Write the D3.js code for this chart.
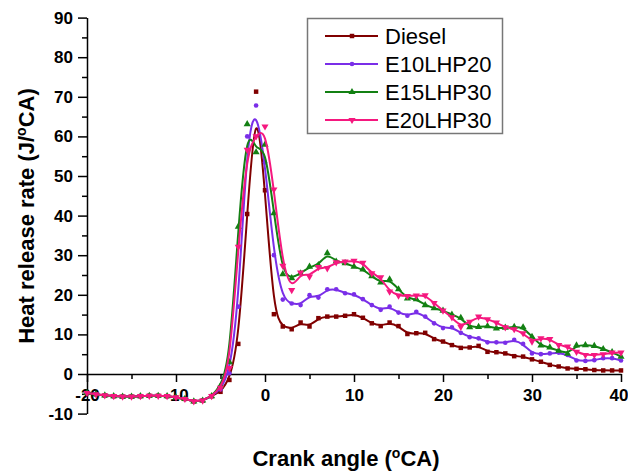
<!DOCTYPE html>
<html>
<head>
<meta charset="utf-8">
<script src="https://cdn.jsdelivr.net/npm/d3@7"></script>
<style>
  body { margin: 0; background: #fff; }
  svg { display: block; font-family: Arial, "Liberation Sans", sans-serif; }
</style>
</head>
<body>
<div id="chart"></div>
<script>
// Crank angle, one reading per degree
var angles = d3.range(-20, 41, 1);

// Motored part before ignition is the same for all fuels (-20 .. -6)
var baseline = [-4.8, -5.1, -5.4, -5.6, -5.7, -5.7, -5.6, -5.5, -5.5, -5.6, -5.9, -6.3, -6.9, -6.7, -5.6];

// -5 .. 40 for every fuel
var diesel = baseline.concat([-4.5, -1.5, 7.6, 40.4, 71.3, 46.4, 15.1, 12.0, 11.3, 13.0, 12.0, 14.1, 14.5, 14.5, 14.7, 15.1,
  14.2, 12.8, 12.1, 13.0, 12.1, 10.1, 10.3, 10.4, 8.8, 8.2, 7.3, 6.6, 6.7, 7.1, 5.6,
  5.5, 5.2, 4.5, 4.4, 3.7, 3.1, 2.3, 1.9, 1.4, 1.3, 1.2, 1.0, 0.9, 0.9, 0.9]);
var e10 = baseline.concat([-3.9, 0.2, 17.0, 60.0, 67.8, 53.4, 30.0, 18.8, 17.8, 17.4, 19.9, 19.3, 21.4, 21.4, 20.4, 20.1,
  18.9, 17.4, 16.2, 17.0, 15.5, 14.7, 15.7, 14.5, 12.8, 11.6, 11.8, 10.4, 9.3, 9.0, 8.0,
  8.0, 7.9, 8.6, 7.6, 5.2, 5.0, 5.2, 5.4, 4.8, 3.4, 3.3, 3.5, 4.0, 4.0, 3.4]);
var e15 = baseline.concat([-3.0, 3.0, 37.2, 63.1, 56.0, 57.9, 40.6, 25.2, 24.2, 25.4, 27.1, 27.5, 30.5, 28.4, 28.0, 27.1,
  26.4, 24.7, 23.1, 23.9, 21.4, 19.1, 18.9, 17.4, 16.6, 16.0, 15.0, 14.2, 11.8, 11.9, 12.1,
  11.5, 11.7, 11.9, 11.8, 9.4, 7.2, 6.7, 5.9, 5.1, 7.2, 7.3, 7.1, 6.3, 5.5, 4.4]);
var e20 = baseline.concat([-3.5, 1.5, 32.1, 56.6, 60.0, 62.5, 46.6, 27.3, 21.2, 25.6, 24.6, 27.0, 26.7, 28.2, 28.4, 28.6,
  28.1, 25.4, 24.4, 20.8, 19.8, 19.7, 19.8, 19.9, 17.9, 16.0, 14.3, 11.9, 13.2, 14.5, 13.8,
  13.0, 11.8, 11.3, 10.3, 8.2, 9.0, 8.8, 7.3, 6.9, 5.6, 4.8, 4.8, 5.0, 5.4, 5.4]);

var seriesNames = ["Diesel", "E10LHP20", "E15LHP30", "E20LHP30"];
var seriesValues = [diesel, e10, e15, e20];
var seriesColors = ["#800000", "#7a2ee8", "#138013", "#f5187f"];

var xTicks = [-20, -10, 0, 10, 20, 30, 40];
var yTicks = [-10, 0, 10, 20, 30, 40, 50, 60, 70, 80, 90];

var W = 628, H = 471;
var svg = d3.select("#chart").append("svg").attr("width", W).attr("height", H);

var x = d3.scaleLinear().domain([-20, 40]).range([87, 621]);
var y = d3.scaleLinear().domain([-10, 90]).range([413.6, 17.6]);

// marker shapes, one per fuel
var symbols = [
  d3.symbol().type(d3.symbolSquare).size(20),
  d3.symbol().type(d3.symbolCircle).size(17),
  d3.symbol().type(d3.symbolTriangle).size(22),
  d3.symbol().type(d3.symbolTriangle).size(22)
];
var rot = [0, 0, 0, 180];

// y axis (minor ticks first, then major ones with labels)
svg.append("g").attr("transform", "translate(" + x(-20) + ",0)")
  .call(d3.axisLeft(y).tickValues(d3.range(-5, 90, 10)).tickSize(5).tickSizeOuter(0).tickFormat(""))
  .call(g => g.select(".domain").remove());
var yAxis = svg.append("g").attr("transform", "translate(" + x(-20) + ",0)")
  .call(d3.axisLeft(y).tickValues(yTicks).tickSize(9).tickSizeOuter(0).tickPadding(5).tickFormat(d => String(d)));

// x axis sits on the zero line
svg.append("g").attr("transform", "translate(0," + y(0) + ")")
  .call(d3.axisBottom(x).tickValues(d3.range(-15, 40, 10)).tickSize(5).tickSizeOuter(0).tickFormat(""))
  .call(g => g.select(".domain").remove());
var xAxis = svg.append("g").attr("transform", "translate(0," + y(0) + ")")
  .call(d3.axisBottom(x).tickValues(xTicks).tickSize(8).tickSizeOuter(0).tickPadding(7).tickFormat(d => String(d)));

svg.selectAll(".tick line, .domain").attr("stroke", "#000").attr("stroke-width", 1.5);
svg.selectAll(".tick text").attr("fill", "#000")
  .style("font-size", "17px").style("font-weight", "bold")
  .style("font-family", "Arial, 'Liberation Sans', sans-serif");
// last label would run off the right edge
xAxis.selectAll(".tick text").filter(d => d === 40).attr("text-anchor", "end").attr("x", 7);

// curves
var line = d3.line()
  .x((d, i) => x(angles[i]))
  .y(d => y(d))
  .curve(d3.curveBasis);

seriesValues.forEach(function(vals, k) {
  var g = svg.append("g");
  g.append("path").datum(vals)
    .attr("d", line)
    .attr("fill", "none")
    .attr("stroke", seriesColors[k])
    .attr("stroke-width", 2);
  g.selectAll("path.pt").data(vals).enter().append("path")
    .attr("class", "pt")
    .attr("d", symbols[k])
    .attr("transform", (d, i) => "translate(" + x(angles[i]) + "," + y(d) + ") rotate(" + rot[k] + ")")
    .attr("fill", seriesColors[k]);
});

// axis titles
var yt = svg.append("text")
  .attr("transform", "translate(34,216) rotate(-90)")
  .attr("text-anchor", "middle")
  .style("font-size", "22px").style("font-weight", "bold");
yt.append("tspan").text("Heat release rate (J/");
yt.append("tspan").attr("dy", -8).style("font-size", "14px").text("o");
yt.append("tspan").attr("dy", 8).text("CA)");

var xt = svg.append("text")
  .attr("x", 346).attr("y", 466)
  .attr("text-anchor", "middle")
  .style("font-size", "22px").style("font-weight", "bold");
xt.append("tspan").text("Crank angle (");
xt.append("tspan").attr("dy", -8).style("font-size", "14px").text("o");
xt.append("tspan").attr("dy", 8).text("CA)");

// legend
var lg = svg.append("g");
lg.append("rect").attr("x", 307.5).attr("y", 18.5).attr("width", 195).attr("height", 115)
  .attr("fill", "#fff").attr("stroke", "#777").attr("stroke-width", 1.5);
seriesNames.forEach(function(name, k) {
  var cy = 36 + k * 28;
  lg.append("line").attr("x1", 325).attr("x2", 378).attr("y1", cy).attr("y2", cy)
    .attr("stroke", seriesColors[k]).attr("stroke-width", 2);
  lg.append("path").attr("d", symbols[k])
    .attr("transform", "translate(352," + cy + ") rotate(" + rot[k] + ")")
    .attr("fill", seriesColors[k]);
  lg.append("text").attr("x", 385).attr("y", cy + 8)
    .style("font-size", "22px").text(name);
});
</script>
</body>
</html>
